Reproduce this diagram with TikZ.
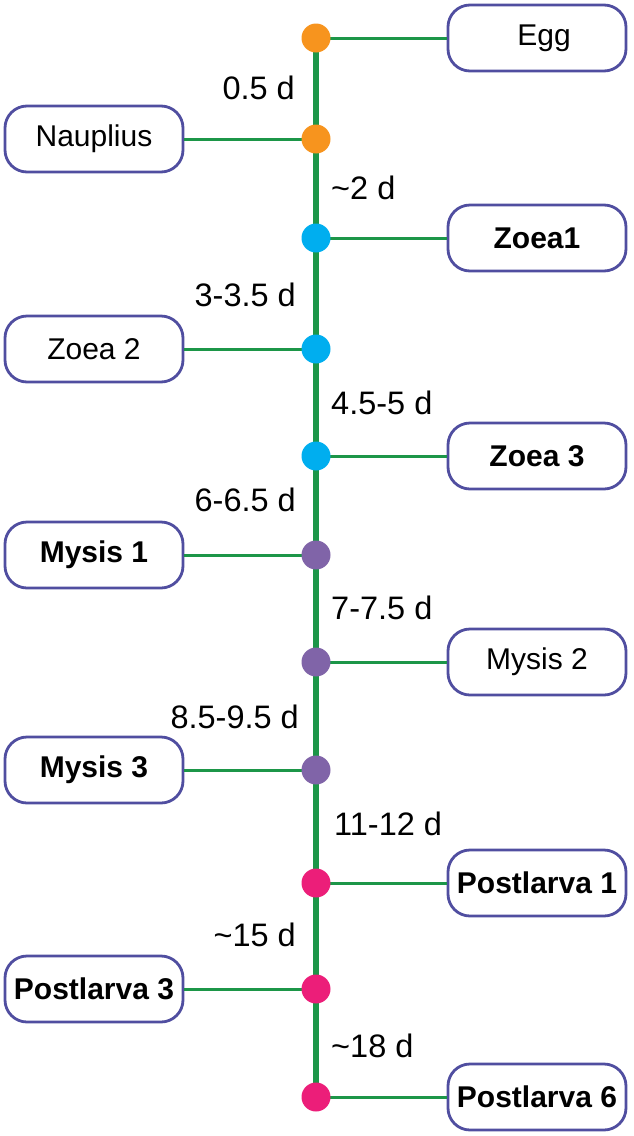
\documentclass[tikz,border=0pt]{standalone}
\usepackage{fontspec}
\setmainfont{Liberation Sans}
\definecolor{lgreen}{RGB}{28,150,72}
\definecolor{dorange}{RGB}{247,148,30}
\definecolor{dblue}{RGB}{0,174,239}
\definecolor{dpurple}{RGB}{128,100,168}
\definecolor{dpink}{RGB}{236,30,121}
\definecolor{boxline}{RGB}{80,78,160}
\tikzset{
  stage/.style={draw=boxline, line width=2.8pt, rounded corners=22pt, fill=white,
    minimum width=178pt, minimum height=66pt, inner sep=0pt,
    font=\fontsize{30}{36}\selectfont},
  dot/.style={circle, minimum size=29pt, inner sep=0pt},
  trunk/.style={lgreen, line width=6pt},
  branch/.style={lgreen, line width=3pt},
  dur/.style={font=\fontsize{32.5}{38}\selectfont, inner sep=0pt},
}
\begin{document}
\begin{tikzpicture}[x=1pt,y=-1pt]
\useasboundingbox (0,0) rectangle (633,1136);
% dots positions
\coordinate (c1) at (316,38);
\coordinate (c2) at (316,139);
\coordinate (c3) at (316,238);
\coordinate (c4) at (316,349);
\coordinate (c5) at (316,456);
\coordinate (c6) at (316,555);
\coordinate (c7) at (316,662);
\coordinate (c8) at (316,770);
\coordinate (c9) at (316,883);
\coordinate (c10) at (316,989);
\coordinate (c11) at (316,1097);
% boxes
\node[stage] (egg) at (537,38) {\hspace*{14pt}Egg};
\node[stage] (naup) at (94,139) {Nauplius};
\node[stage] (z1) at (537,238) {\textbf{Zoea1}};
\node[stage] (z2) at (94,349) {Zoea 2};
\node[stage] (z3) at (537,456) {\textbf{Zoea 3}};
\node[stage] (m1) at (94,555) {\textbf{Mysis 1}};
\node[stage] (m2) at (537,662) {Mysis 2};
\node[stage] (m3) at (94,770) {\textbf{Mysis 3}};
\node[stage] (p1) at (537,883) {\textbf{Postlarva 1}};
\node[stage] (p3) at (94,989) {\textbf{Postlarva 3}};
\node[stage] (p6) at (537,1097) {\textbf{Postlarva 6}};
% trunk
\draw[trunk] (c1) -- (c11);
% branches
\draw[branch] (c1) -- (egg);
\draw[branch] (c2) -- (naup);
\draw[branch] (c3) -- (z1);
\draw[branch] (c4) -- (z2);
\draw[branch] (c5) -- (z3);
\draw[branch] (c6) -- (m1);
\draw[branch] (c7) -- (m2);
\draw[branch] (c8) -- (m3);
\draw[branch] (c9) -- (p1);
\draw[branch] (c10) -- (p3);
\draw[branch] (c11) -- (p6);
% dots
\node[dot, fill=dorange] (d1) at (c1) {};
\node[dot, fill=dorange] (d2) at (c2) {};
\node[dot, fill=dblue] (d3) at (c3) {};
\node[dot, fill=dblue] (d4) at (c4) {};
\node[dot, fill=dblue] (d5) at (c5) {};
\node[dot, fill=dpurple] (d6) at (c6) {};
\node[dot, fill=dpurple] (d7) at (c7) {};
\node[dot, fill=dpurple] (d8) at (c8) {};
\node[dot, fill=dpink] (d9) at (c9) {};
\node[dot, fill=dpink] (d10) at (c10) {};
\node[dot, fill=dpink] (d11) at (c11) {};
% durations
\node[dur, anchor=east] (t1) at (295,88) {0.5 d};
\node[dur, anchor=west] (t2) at (331,188) {\textasciitilde 2 d};
\node[dur, anchor=east] (t3) at (296,295) {3-3.5 d};
\node[dur, anchor=west] (t4) at (331,403) {4.5-5 d};
\node[dur, anchor=east] (t5) at (296,500) {6-6.5 d};
\node[dur, anchor=west] (t6) at (331,608) {7-7.5 d};
\node[dur, anchor=east] (t7) at (299,717) {8.5-9.5 d};
\node[dur, anchor=west] (t8) at (334,824) {11-12 d};
\node[dur, anchor=east] (t9) at (296,935) {\textasciitilde 15 d};
\node[dur, anchor=west] (t10) at (331,1046) {\textasciitilde 18 d};
\end{tikzpicture}
\end{document}
